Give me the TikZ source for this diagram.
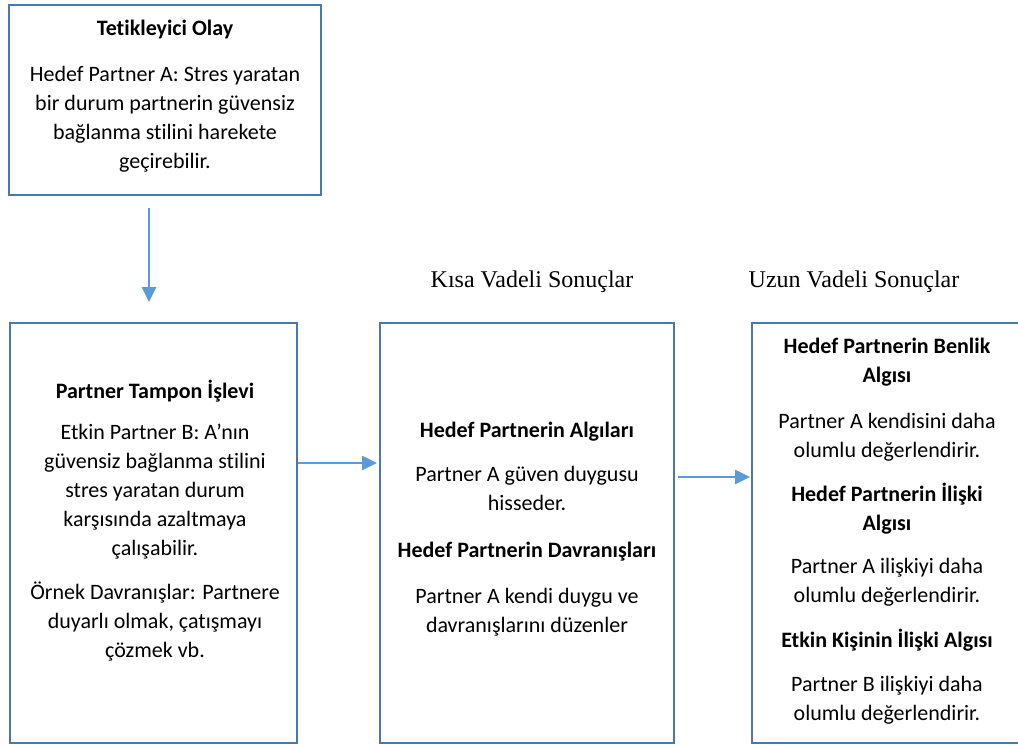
\documentclass[tikz,border=0pt]{standalone}
\usepackage{fontspec}
\setmainfont[Ligatures=NoCommon]{Carlito}
\newfontfamily\seriflbl{Liberation Serif}
\usetikzlibrary{arrows.meta,fit}
\definecolor{boxblue}{RGB}{74,120,172}
\definecolor{arrblue}{RGB}{91,155,213}
\tikzset{
  box/.style={draw=boxblue,line width=1.4pt,inner sep=0pt},
  txt/.style={align=center,font=\fontsize{11}{14.4}\selectfont,inner sep=0pt,anchor=base},
  ttl/.style={txt,font=\fontsize{11}{14.4}\selectfont\bfseries},
  lbl/.style={font=\seriflbl\fontsize{12}{14}\selectfont,inner sep=0pt,anchor=base},
  arr/.style={draw=arrblue,line width=1.3pt,-{Triangle[length=7.5pt,width=7pt]}}
}
\begin{document}
\begin{tikzpicture}[x=0.5pt,y=-0.5pt]
\useasboundingbox (0,0) rectangle (1018,745);
% boxes
\node[box,fit={(9,5)(321,195)}] (b1) {};
\node[box,fit={(10,323)(297,743)}] (b2) {};
\node[box,fit={(380,323)(674,743)}] (b3) {};
\node[box,fit={(752,323)(1030,743)}] (b4) {};
% box 1 (base anchor = last line baseline)
\node[ttl] (t1) at (165,35) {Tetikleyici Olay};
\node[txt] (p1) at (165,168) {Hedef Partner A: Stres yaratan\\bir durum partnerin güvensiz\\bağlanma stilini harekete\\geçirebilir.};
% box 2
\node[ttl] (t2) at (155,398) {Partner Tampon İşlevi};
\node[txt] (p2) at (155,555) {Etkin Partner B: A’nın\\güvensiz bağlanma stilini\\stres yaratan durum\\karşısında azaltmaya\\çalışabilir.};
\node[txt] (p3) at (155,657) {Örnek Davranışlar: Partnere\\duyarlı olmak, çatışmayı\\çözmek vb.};
% box 3
\node[ttl] (t3) at (527,437) {Hedef Partnerin Algıları};
\node[txt] (p4) at (527,510) {Partner A güven duygusu\\hisseder.};
\node[ttl] (t4) at (527,557) {Hedef Partnerin Davranışları};
\node[txt] (p5) at (527,632) {Partner A kendi duygu ve\\davranışlarını düzenler};
% box 4
\node[ttl] (t5) at (887,382) {Hedef Partnerin Benlik\\Algısı};
\node[txt] (p6) at (887,457) {Partner A kendisini daha\\olumlu değerlendirir.};
\node[ttl] (t6) at (887,530) {Hedef Partnerin İlişki\\Algısı};
\node[txt] (p7) at (887,602) {Partner A ilişkiyi daha\\olumlu değerlendirir.};
\node[ttl] (t7) at (887,647) {Etkin Kişinin İlişki Algısı};
\node[txt] (p8) at (887,720) {Partner B ilişkiyi daha\\olumlu değerlendirir.};
% labels
\node[lbl] (l1) at (532,287) {Kısa Vadeli Sonuçlar};
\node[lbl] (l2) at (854,287) {Uzun Vadeli Sonuçlar};
% arrows
\coordinate (a1s) at (149,208);
\coordinate (a1e) at (149,302);
\draw[arr] (a1s) -- (a1e);
\coordinate (a2e) at (377,463);
\draw[arr] (b2.east |- a2e) -- (a2e);
\coordinate (a3s) at (678,477);
\coordinate (a3e) at (750,477);
\draw[arr] (a3s) -- (a3e);
\end{tikzpicture}
\end{document}
